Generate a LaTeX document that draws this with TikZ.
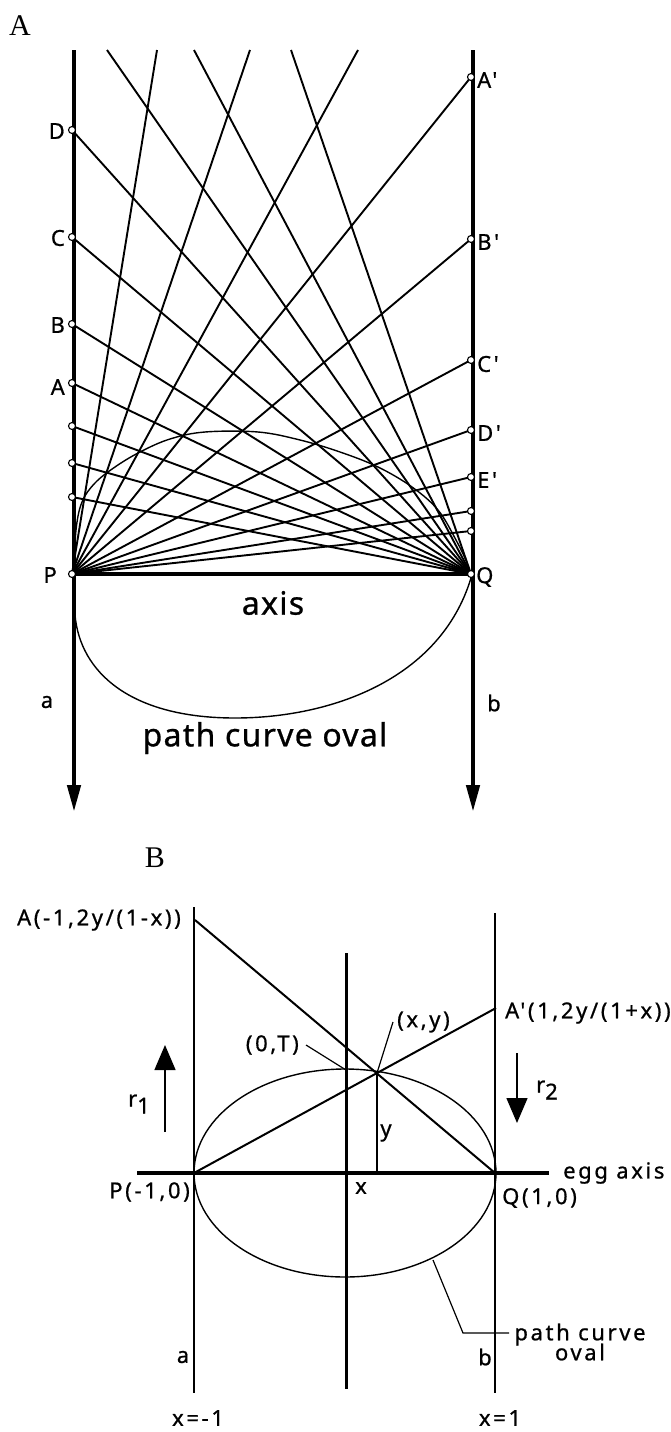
\documentclass[tikz,border=0pt]{standalone}
\usepackage{fontspec}
\setmainfont{Liberation Serif}
\newfontfamily\labB{Noto Sans}[LetterSpace=12,FakeBold=0.8]
\newfontfamily\labA{Noto Sans}[LetterSpace=4,FakeBold=0.8]
\usetikzlibrary{arrows.meta}
\begin{document}
\begin{tikzpicture}[x=1pt,y=-1pt,
  thk/.style={line width=4.5pt},
  ray/.style={line width=1.9pt},
  opdot/.style={circle,draw,fill=white,inner sep=0pt,minimum size=7pt,line width=1.1pt},
  lbl/.style={font=\labB\fontsize{22}{24}\selectfont,inner sep=0pt},
  big/.style={font=\labA\fontsize{32}{36}\selectfont,inner sep=0pt},
  ser/.style={font=\fontsize{30}{34}\selectfont,inner sep=0pt},
  thn/.style={line width=1.4pt},
  mid/.style={line width=3pt},
  diag/.style={line width=2pt},
  lead/.style={line width=1.2pt},
  curveA/.style={line width=1.4pt},
  arA/.style={-{Triangle[length=27pt,width=13pt]}},
  arB/.style={-{Triangle[length=25pt,width=21pt]}}]
\useasboundingbox (0,0) rectangle (670,1432);

% ---------------- Part A ----------------
\node[ser] (labA) at (20,26) {A};
\coordinate (aTop) at (74,50);   \coordinate (aBot) at (74,812);
\coordinate (bTop) at (473,50);  \coordinate (bBot) at (473,812);
\draw[thk,arA] (aTop) -- (aBot);
\draw[thk,arA] (bTop) -- (bBot);

\coordinate (P) at (72,574);
\coordinate (Q) at (471,574);
\draw[thk] (P) -- (Q);

% left points
\foreach \n/\y in {lD/130,lC/237,lB/324,lA/383,l5/426,l6/463,l7/497}
  \coordinate (\n) at (72,\y);
% right points
\foreach \n/\y in {rA/77,rB/239,rC/360,rD/430,rE/477,r6/511,r7/531}
  \coordinate (\n) at (471,\y);
% top exits
\foreach \n/\x in {tq1/107,tq2/194,tq3/291,tp1/157,tp2/250,tp3/358}
  \coordinate (\n) at (\x,50);

\foreach \n in {lD,lC,lB,lA,l5,l6,l7,tq1,tq2,tq3}
  \draw[ray] (Q) -- (\n);
\foreach \n in {rA,rB,rC,rD,rE,r6,r7,tp1,tp2,tp3}
  \draw[ray] (P) -- (\n);

% oval (hand drawn)
\draw[curveA] plot[smooth,tension=0.6] coordinates {(74,573) (76,530) (82,502) (95,483) (115,467) (140,452) (170,439) (205,432) (258,432) (300,440) (340,452) (378,467) (412,487) (438,510) (456,540) (467,563) (471,576)};
\draw[curveA] (471,578) .. controls (440,680) and (330,718) .. (235,718)
                        .. controls (130,718) and (80,672) .. (75,615) -- (74,590);

\foreach \n in {lD,lC,lB,lA,l5,l6,l7,P,rA,rB,rC,rD,rE,r6,r7,Q}
  \node[opdot] (d\n) at (\n) {};

\node[lbl,anchor=east] (tD) at (65,131) {D};
\node[lbl,anchor=east] (tC) at (65,238) {C};
\node[lbl,anchor=east] (tB) at (65,325) {B};
\node[lbl,anchor=east] (tA) at (65,387) {A};
\node[lbl,anchor=east] (tP) at (57,575) {P};
\node[lbl,anchor=west] (tA2) at (477,80) {A'};
\node[lbl,anchor=west] (tB2) at (477,242) {B'};
\node[lbl,anchor=west] (tC2) at (477,364) {C'};
\node[lbl,anchor=west] (tD2) at (477,433) {D'};
\node[lbl,anchor=west] (tE2) at (477,480) {E'};
\node[lbl,anchor=west] (tQ) at (476,577) {Q};
\node[lbl] (ta) at (47,702) {a};
\node[lbl] (tb) at (494,703) {b};
\node[big] (taxis) at (273,603) {axis};
\node[big] (tpco) at (265,738) {path curve oval};

% ---------------- Part B ----------------
\node[ser] (labB) at (155,858) {B};
\coordinate (L1) at (194,907);  \coordinate (L2) at (194,1393);
\coordinate (R1) at (495,913);  \coordinate (R2) at (495,1393);
\coordinate (M1) at (346,953);  \coordinate (M2) at (346,1389);
\draw[thn] (L1) -- (L2);
\draw[thn] (R1) -- (R2);
\draw[mid] (M1) -- (M2);

\coordinate (E1) at (137,1173); \coordinate (E2) at (549,1173);
\draw[thk] (E1) -- (E2);

\draw[thn] (345,1173) ellipse [x radius=151, y radius=104];

\coordinate (BP) at (194,1173);
\coordinate (BQ) at (495,1173);
\coordinate (BA) at (195,920);
\coordinate (BA2) at (496,1008);
\coordinate (XY) at (377,1073);
\coordinate (XY0) at (377,1173);
\coordinate (T) at (346,1070);
\draw[diag] (BA) -- (BQ);
\draw[diag] (BP) -- (BA2);
\draw[lead] (XY) -- (XY0);

\node[lbl,anchor=east] (tBA) at (181,920) {A(-1,2y/(1-x))};
\node[lbl,anchor=west] (tBA2) at (505,1013) {A'(1,2y/(1+x))};
\node[lbl,anchor=west] (txy) at (397,1022) {(x,y)};
\node[lbl,anchor=east] (tT) at (299,1045) {(0,T)};
\coordinate (xyl) at (393,1022);
\coordinate (Tl) at (306,1045);
\draw[lead] (xyl) -- (XY);
\draw[lead] (Tl) -- (T);

% r arrows
\coordinate (r1a) at (165,1132); \coordinate (r1b) at (165,1045);
\coordinate (r2a) at (517,1053); \coordinate (r2b) at (517,1123);
\draw[thn,arB] (r1a) -- (r1b);
\draw[thn,arB] (r2a) -- (r2b);
\node[lbl] (tr1) at (139,1104) {r\raisebox{-7pt}{1}};
\node[lbl] (tr2) at (547,1090) {r\raisebox{-7pt}{2}};

\node[lbl] (ty) at (386,1133) {y};
\node[lbl] (tx) at (361,1188) {x};
\node[lbl,anchor=east] (tBP) at (190,1192) {P(-1,0)};
\node[lbl,anchor=west] (tBQ) at (502,1198) {Q(1,0)};
\node[lbl,anchor=west] (tegg) at (563,1173) {egg axis};

\coordinate (pc1) at (433,1260);
\coordinate (pc2) at (463,1333);
\coordinate (pc3) at (509,1333);
\draw[lead] (pc1) -- (pc2) -- (pc3);
\node[lbl,align=center] (tpc) at (580,1342) {path curve\\[-4pt]oval};

\node[lbl] (tBa) at (183,1357) {a};
\node[lbl] (tBb) at (485,1357) {b};
\node[lbl] (tx1) at (198,1418) {x=-1};
\node[lbl] (tx2) at (500,1418) {x=1};
\end{tikzpicture}
\end{document}
